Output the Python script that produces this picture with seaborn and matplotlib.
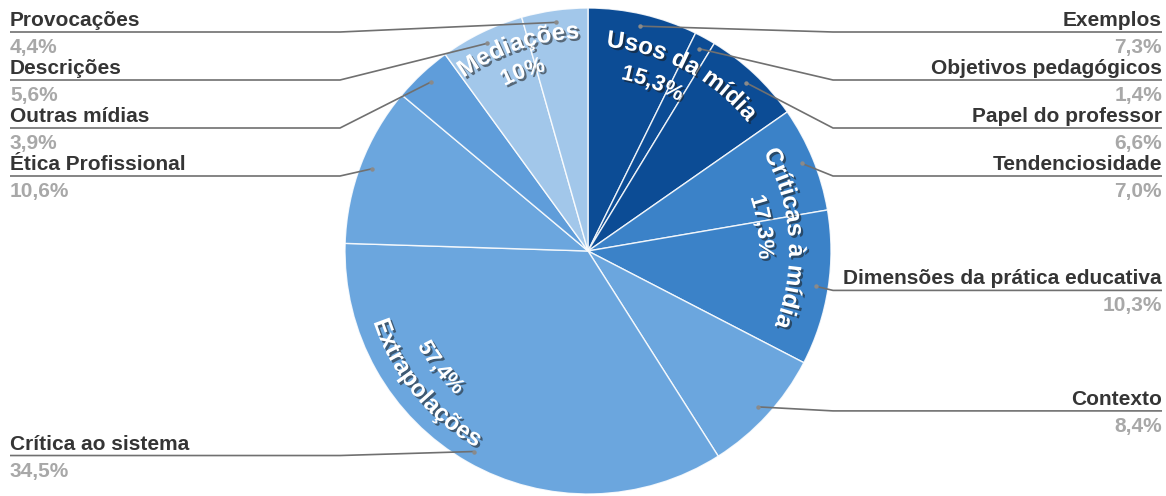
import matplotlib
matplotlib.use("Agg")
import matplotlib.pyplot as plt
import matplotlib.patheffects as pe
from matplotlib.font_manager import FontProperties
import seaborn as sns
import numpy as np

# ---------------- data ----------------
categories = ["Exemplos", "Objetivos pedagógicos", "Papel do professor",
              "Tendenciosidade", "Dimensões da prática educativa", "Contexto",
              "Crítica ao sistema", "Ética Profissional", "Outras mídias",
              "Descrições", "Provocações"]
values = [7.3, 1.4, 6.6, 7.0, 10.3, 8.4, 34.5, 10.6, 3.9, 5.6, 4.4]
slice_groups = ["Usos da mídia"] * 3 + ["Críticas à mídia"] * 2 + \
               ["Extrapolações"] * 4 + ["Mediações"] * 2
group_names = ["Usos da mídia", "Críticas à mídia", "Extrapolações", "Mediações"]
group_values = [15.3, 17.3, 57.4, 10]

# ---------------- style ----------------
sns.set_theme(style="white")
plt.rcParams["font.family"] = ["Liberation Sans", "DejaVu Sans"]

group_colors = dict(zip(group_names,
                        sns.color_palette(["#0c4c95", "#3b82c8", "#6ba6de", "#a2c7ea"])))
slice_colors = [group_colors[g] for g in slice_groups]
slice_colors[8] = "#5f9dda"  # Outras mídias a little darker

W, H = 1166, 496
fig = plt.figure(figsize=(W / 100, H / 100), dpi=100)
ax = fig.add_axes([0, 0, 1, 1])

cx, cy_down, R = 588, 251, 243
cy = H - cy_down

ax.pie(values, colors=slice_colors, startangle=90, counterclock=False,
       center=(cx, cy), radius=R,
       wedgeprops=dict(edgecolor=(1, 1, 1, 0.85), linewidth=1.0))
ax.set_xlim(0, W)
ax.set_ylim(0, H)
ax.set_aspect("auto")
ax.axis("off")

renderer = fig.canvas.get_renderer()


def pct(v, force_decimal=True):
    s = f"{v:.1f}"
    if not force_decimal and s.endswith(".0"):
        s = s[:-2]
    return s.replace(".", ",") + "%"


def text_w(s, prop):
    w1, _, _ = renderer.get_text_width_height_descent(s + "|", prop, ismath=False)
    w2, _, _ = renderer.get_text_width_height_descent("|", prop, ismath=False)
    return w1 - w2


shadow = [pe.SimplePatchShadow(offset=(1.6, -1.6), shadow_rgbFace="#1a1a1a", alpha=0.55),
          pe.Normal()]


def curved(text, center_deg, r, size, inward=False):
    prop = FontProperties(family="Liberation Sans", weight="bold", size=size)
    total = text_w(text, prop)
    for i, ch in enumerate(text):
        if ch == " ":
            continue
        s0 = text_w(text[:i], prop)
        s1 = text_w(text[:i + 1], prop)
        mid = (s0 + s1) / 2 - total / 2
        d = np.degrees(mid / r)
        if not inward:
            phi = center_deg + d
            rot = -phi
        else:
            phi = center_deg - d
            rot = 180 - phi
        x = cx + r * np.sin(np.radians(phi))
        y = cy + r * np.cos(np.radians(phi))
        ax.text(x, y, ch, rotation=rot, rotation_mode="anchor", ha="center",
                va="baseline", fontproperties=prop, color="white",
                path_effects=shadow, zorder=5)


# group labels (curved)
cum = np.cumsum([0] + group_values)
g_mid = [(cum[i] + cum[i + 1]) / 2 * 3.6 for i in range(len(group_values))]
title_offset = [0.5, 0, 10, -1]
title_r = [205, 201, 226, 213]
pct_offset = [-6.5, -4, 11, -2]
pct_r = [175, 171, 195, 185]
inward = [False, False, True, False]
for i, name in enumerate(group_names):
    curved(name, g_mid[i] + title_offset[i], title_r[i], 17.5, inward[i])
    curved(pct(group_values[i], False), g_mid[i] + pct_offset[i], pct_r[i], 16, inward[i])

# slice labels with leader lines
cs = np.cumsum([0] + values)
mids = [(cs[i] + cs[i + 1]) / 2 * 3.6 for i in range(len(values))]
dot_r = 0.95 * R
dots = [(cx + dot_r * np.sin(np.radians(m)), cy_down - dot_r * np.cos(np.radians(m)))
        for m in mids]

label_prop = dict(fontsize=15, fontweight="bold", family="Liberation Sans")
right_idx = [i for i, m in enumerate(mids) if m < 180]
left_idx = [i for i, m in enumerate(mids) if m >= 180][::-1]

for side, idxs in (("right", right_idx), ("left", left_idx)):
    prev = -1e9
    for i in idxs:
        dx, dy = dots[i]
        ly = max(dy + 4, prev + 48, 32)
        prev = ly
        if side == "right":
            xb, xe, xt, ha = 833, 1162, 1162, "right"
        else:
            xb, xe, xt, ha = 340, 10, 10, "left"
        ax.plot([dx, xb, xe], [H - dy, H - ly, H - ly], color="#707070",
                lw=1.2, solid_capstyle="butt", zorder=6)
        ax.plot([dx], [H - dy], marker="o", ms=3.2, color="#8a8a8a",
                mec="none", zorder=7)
        ax.text(xt, H - (ly - 6), categories[i], ha=ha, va="baseline",
                color="#353535", **label_prop)
        ax.text(xt, H - (ly + 21), pct(values[i]), ha=ha, va="baseline",
                color="#a8a8a8", **label_prop)

fig.savefig("out.png", dpi=100)
